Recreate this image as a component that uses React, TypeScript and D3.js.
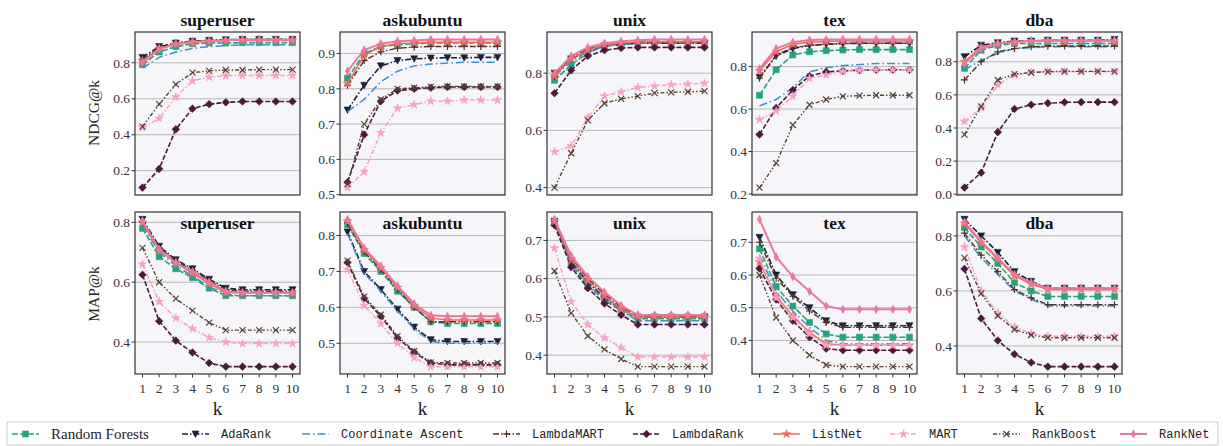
import * as d3 from 'd3'

// k = 1..10
const kValues = [1, 2, 3, 4, 5, 6, 7, 8, 9, 10]
const datasets = ['superuser', 'askubuntu', 'unix', 'tex', 'dba']
const methods = ['Random Forests', 'AdaRank', 'Coordinate Ascent', 'LambdaMART', 'LambdaRank', 'ListNet', 'MART', 'RankBoost', 'RankNet']

// rows follow the order of `methods`
const ndcgSuperuser = [
  [0.79, 0.86, 0.89, 0.905, 0.91, 0.91, 0.912, 0.912, 0.912, 0.912],
  [0.83, 0.89, 0.91, 0.92, 0.925, 0.928, 0.93, 0.93, 0.93, 0.93],
  [0.77, 0.83, 0.86, 0.88, 0.89, 0.895, 0.9, 0.9, 0.9, 0.9],
  [0.82, 0.88, 0.91, 0.92, 0.925, 0.927, 0.928, 0.928, 0.928, 0.928],
  [0.106, 0.21, 0.43, 0.545, 0.57, 0.58, 0.585, 0.585, 0.585, 0.585],
  [0.81, 0.88, 0.905, 0.915, 0.92, 0.925, 0.925, 0.925, 0.925, 0.925],
  [0.44, 0.49, 0.61, 0.7, 0.72, 0.728, 0.73, 0.73, 0.73, 0.73],
  [0.445, 0.57, 0.68, 0.745, 0.755, 0.76, 0.76, 0.762, 0.762, 0.762],
  [0.8, 0.875, 0.905, 0.915, 0.92, 0.925, 0.928, 0.928, 0.928, 0.928],
]
const ndcgAskubuntu = [
  [0.83, 0.9, 0.92, 0.925, 0.928, 0.93, 0.93, 0.93, 0.93, 0.93],
  [0.74, 0.81, 0.865, 0.88, 0.885, 0.887, 0.888, 0.888, 0.889, 0.889],
  [0.735, 0.77, 0.82, 0.85, 0.865, 0.87, 0.873, 0.875, 0.875, 0.875],
  [0.81, 0.88, 0.905, 0.915, 0.918, 0.92, 0.92, 0.92, 0.92, 0.92],
  [0.535, 0.67, 0.765, 0.795, 0.8, 0.803, 0.805, 0.805, 0.805, 0.805],
  [0.815, 0.895, 0.92, 0.928, 0.93, 0.932, 0.932, 0.932, 0.932, 0.932],
  [0.52, 0.565, 0.675, 0.745, 0.755, 0.765, 0.765, 0.768, 0.768, 0.768],
  [0.53, 0.7, 0.77, 0.8, 0.803, 0.806, 0.807, 0.807, 0.807, 0.807],
  [0.85, 0.91, 0.928, 0.935, 0.937, 0.94, 0.94, 0.94, 0.94, 0.94],
]
const ndcgUnix = [
  [0.775, 0.83, 0.87, 0.895, 0.9, 0.905, 0.905, 0.905, 0.905, 0.905],
  [0.8, 0.85, 0.875, 0.895, 0.9, 0.905, 0.905, 0.905, 0.905, 0.905],
  [0.79, 0.84, 0.875, 0.895, 0.9, 0.905, 0.905, 0.905, 0.905, 0.905],
  [0.79, 0.855, 0.885, 0.9, 0.905, 0.908, 0.91, 0.91, 0.91, 0.91],
  [0.73, 0.81, 0.86, 0.88, 0.888, 0.89, 0.89, 0.89, 0.89, 0.89],
  [0.79, 0.85, 0.88, 0.9, 0.905, 0.91, 0.91, 0.91, 0.91, 0.91],
  [0.525, 0.545, 0.645, 0.72, 0.735, 0.75, 0.755, 0.76, 0.762, 0.765],
  [0.4, 0.52, 0.635, 0.695, 0.71, 0.72, 0.73, 0.733, 0.735, 0.737],
  [0.8, 0.86, 0.89, 0.905, 0.912, 0.915, 0.918, 0.918, 0.918, 0.918],
]
const ndcgTex = [
  [0.665, 0.785, 0.855, 0.87, 0.875, 0.878, 0.88, 0.88, 0.88, 0.88],
  [0.75, 0.85, 0.885, 0.9, 0.905, 0.907, 0.91, 0.91, 0.91, 0.91],
  [0.615, 0.645, 0.7, 0.775, 0.795, 0.805, 0.81, 0.815, 0.815, 0.815],
  [0.745, 0.855, 0.89, 0.9, 0.905, 0.91, 0.91, 0.91, 0.91, 0.91],
  [0.48, 0.605, 0.69, 0.755, 0.775, 0.78, 0.783, 0.785, 0.785, 0.785],
  [0.78, 0.87, 0.905, 0.915, 0.918, 0.92, 0.92, 0.92, 0.92, 0.92],
  [0.55, 0.59, 0.66, 0.745, 0.76, 0.778, 0.783, 0.785, 0.785, 0.785],
  [0.23, 0.345, 0.525, 0.62, 0.645, 0.66, 0.663, 0.665, 0.665, 0.665],
  [0.79, 0.885, 0.915, 0.925, 0.927, 0.928, 0.928, 0.928, 0.928, 0.928],
]
const ndcgDba = [
  [0.76, 0.87, 0.9, 0.91, 0.91, 0.91, 0.91, 0.91, 0.91, 0.91],
  [0.83, 0.9, 0.915, 0.925, 0.925, 0.93, 0.93, 0.93, 0.93, 0.935],
  [0.75, 0.81, 0.85, 0.88, 0.885, 0.89, 0.89, 0.89, 0.89, 0.89],
  [0.69, 0.8, 0.86, 0.88, 0.89, 0.895, 0.895, 0.895, 0.895, 0.895],
  [0.04, 0.13, 0.375, 0.515, 0.54, 0.55, 0.555, 0.556, 0.556, 0.556],
  [0.8, 0.89, 0.91, 0.92, 0.925, 0.925, 0.925, 0.925, 0.925, 0.925],
  [0.44, 0.52, 0.66, 0.72, 0.735, 0.74, 0.74, 0.74, 0.74, 0.74],
  [0.36, 0.53, 0.69, 0.725, 0.735, 0.74, 0.742, 0.742, 0.742, 0.742],
  [0.79, 0.88, 0.91, 0.92, 0.925, 0.928, 0.928, 0.928, 0.928, 0.928],
]

const mapSuperuser = [
  [0.78, 0.685, 0.645, 0.615, 0.58, 0.555, 0.555, 0.555, 0.555, 0.555],
  [0.81, 0.72, 0.675, 0.645, 0.61, 0.58, 0.575, 0.575, 0.575, 0.575],
  [0.79, 0.7, 0.655, 0.62, 0.585, 0.56, 0.555, 0.555, 0.555, 0.555],
  [0.8, 0.715, 0.67, 0.64, 0.605, 0.575, 0.57, 0.57, 0.57, 0.57],
  [0.625, 0.47, 0.405, 0.365, 0.33, 0.318, 0.318, 0.318, 0.318, 0.318],
  [0.8, 0.705, 0.665, 0.63, 0.595, 0.565, 0.565, 0.565, 0.565, 0.565],
  [0.66, 0.535, 0.48, 0.445, 0.415, 0.4, 0.395, 0.395, 0.395, 0.395],
  [0.715, 0.6, 0.545, 0.505, 0.465, 0.44, 0.44, 0.44, 0.44, 0.44],
  [0.805, 0.71, 0.665, 0.635, 0.6, 0.57, 0.565, 0.565, 0.565, 0.565],
]
const mapAskubuntu = [
  [0.83, 0.75, 0.7, 0.645, 0.6, 0.56, 0.555, 0.555, 0.555, 0.555],
  [0.81, 0.7, 0.65, 0.595, 0.545, 0.51, 0.505, 0.505, 0.505, 0.505],
  [0.805, 0.695, 0.645, 0.59, 0.54, 0.505, 0.5, 0.5, 0.5, 0.5],
  [0.835, 0.755, 0.705, 0.65, 0.6, 0.56, 0.56, 0.56, 0.56, 0.56],
  [0.725, 0.625, 0.575, 0.515, 0.475, 0.445, 0.44, 0.44, 0.44, 0.44],
  [0.84, 0.76, 0.71, 0.655, 0.605, 0.57, 0.565, 0.565, 0.565, 0.565],
  [0.705, 0.605, 0.555, 0.5, 0.46, 0.435, 0.435, 0.435, 0.435, 0.435],
  [0.73, 0.63, 0.58, 0.52, 0.478, 0.447, 0.445, 0.445, 0.445, 0.445],
  [0.845, 0.765, 0.715, 0.66, 0.61, 0.578, 0.575, 0.575, 0.575, 0.575],
]
const mapUnix = [
  [0.745, 0.64, 0.58, 0.545, 0.515, 0.495, 0.495, 0.495, 0.495, 0.495],
  [0.75, 0.645, 0.59, 0.55, 0.52, 0.5, 0.5, 0.5, 0.5, 0.5],
  [0.745, 0.64, 0.585, 0.545, 0.515, 0.49, 0.49, 0.49, 0.49, 0.49],
  [0.75, 0.655, 0.6, 0.56, 0.525, 0.505, 0.505, 0.505, 0.505, 0.505],
  [0.74, 0.63, 0.575, 0.535, 0.505, 0.48, 0.48, 0.48, 0.48, 0.48],
  [0.75, 0.65, 0.595, 0.555, 0.52, 0.5, 0.5, 0.5, 0.5, 0.5],
  [0.68, 0.54, 0.48, 0.445, 0.42, 0.395, 0.395, 0.395, 0.395, 0.395],
  [0.62, 0.51, 0.45, 0.415, 0.39, 0.37, 0.37, 0.37, 0.37, 0.37],
  [0.755, 0.66, 0.605, 0.565, 0.53, 0.505, 0.505, 0.505, 0.505, 0.505],
]
const mapTex = [
  [0.68, 0.565, 0.505, 0.455, 0.42, 0.41, 0.41, 0.41, 0.41, 0.41],
  [0.715, 0.6, 0.54, 0.5, 0.46, 0.445, 0.445, 0.445, 0.445, 0.445],
  [0.66, 0.55, 0.49, 0.44, 0.4, 0.39, 0.39, 0.39, 0.39, 0.39],
  [0.7, 0.59, 0.535, 0.49, 0.455, 0.44, 0.44, 0.44, 0.44, 0.44],
  [0.62, 0.525, 0.46, 0.41, 0.375, 0.37, 0.37, 0.37, 0.37, 0.37],
  [0.64, 0.535, 0.475, 0.425, 0.39, 0.385, 0.385, 0.385, 0.385, 0.385],
  [0.65, 0.53, 0.47, 0.42, 0.385, 0.385, 0.385, 0.385, 0.385, 0.385],
  [0.6, 0.47, 0.4, 0.355, 0.325, 0.32, 0.32, 0.32, 0.32, 0.32],
  [0.77, 0.655, 0.595, 0.55, 0.505, 0.495, 0.495, 0.495, 0.495, 0.495],
]
const mapDba = [
  [0.83, 0.76, 0.7, 0.63, 0.6, 0.58, 0.58, 0.58, 0.58, 0.58],
  [0.86, 0.8, 0.74, 0.67, 0.635, 0.61, 0.61, 0.61, 0.61, 0.61],
  [0.8, 0.72, 0.66, 0.6, 0.57, 0.545, 0.545, 0.545, 0.545, 0.545],
  [0.81, 0.73, 0.67, 0.605, 0.575, 0.55, 0.55, 0.55, 0.55, 0.55],
  [0.68, 0.5, 0.42, 0.37, 0.34, 0.325, 0.325, 0.325, 0.325, 0.325],
  [0.845, 0.775, 0.715, 0.655, 0.625, 0.605, 0.605, 0.605, 0.605, 0.605],
  [0.76, 0.6, 0.52, 0.47, 0.445, 0.435, 0.435, 0.435, 0.435, 0.435],
  [0.72, 0.59, 0.51, 0.46, 0.44, 0.43, 0.43, 0.43, 0.43, 0.43],
  [0.85, 0.78, 0.72, 0.66, 0.63, 0.61, 0.61, 0.61, 0.61, 0.61],
]

const ndcgTicks = [
  [0.2, 0.4, 0.6, 0.8],
  [0.5, 0.6, 0.7, 0.8, 0.9],
  [0.4, 0.6, 0.8],
  [0.2, 0.4, 0.6, 0.8],
  [0.0, 0.2, 0.4, 0.6, 0.8],
]
const mapTicks = [
  [0.4, 0.6, 0.8],
  [0.5, 0.6, 0.7, 0.8],
  [0.4, 0.5, 0.6, 0.7],
  [0.4, 0.5, 0.6, 0.7],
  [0.4, 0.6, 0.8],
]

const ndcgPanels = [ndcgSuperuser, ndcgAskubuntu, ndcgUnix, ndcgTex, ndcgDba]
const mapPanels = [mapSuperuser, mapAskubuntu, mapUnix, mapTex, mapDba]

// styles
const colors = ['#27a27a', '#1b2039', '#3f8fc6', '#4e3526', '#4b1a3a', '#ef6a5a', '#f7a0c8', '#5a4232', '#e9779f']
const dashes = ['6,2', '6,2,1.5,2', '8,3,1.5,3', '6,2,1.5,2', '5,2', null, '5,2,1.5,2', '4,2,1.5,2,1.5,2', null]
const widths = [1.6, 1.6, 1.5, 1.4, 1.6, 1.5, 1.5, 1.4, 2]
const markers = ['square', 'tri', 'none', 'plus', 'diamond', 'star', 'star', 'x', 'thin']

const W = 1223
const H = 446
const panelW = 165
const lefts = [135, 340, 547, 752, 957]
const rows = [
  { top: 32, bottom: 195 },
  { top: 212, bottom: 374 },
]
const serif = '"Liberation Serif", "DejaVu Serif", serif'
const mono = '"Liberation Mono", "DejaVu Sans Mono", monospace'

function markerPath(kind: string) {
  const p = d3.path()
  if (kind === 'square') {
    p.rect(-3, -3, 6, 6)
  } else if (kind === 'tri') {
    p.moveTo(-3.5, -3); p.lineTo(3.5, -3); p.lineTo(0, 3.5); p.closePath()
  } else if (kind === 'plus') {
    p.moveTo(-3.5, 0); p.lineTo(3.5, 0); p.moveTo(0, -3.5); p.lineTo(0, 3.5)
  } else if (kind === 'x') {
    p.moveTo(-3, -3); p.lineTo(3, 3); p.moveTo(-3, 3); p.lineTo(3, -3)
  } else if (kind === 'diamond') {
    p.moveTo(0, -3.8); p.lineTo(3.8, 0); p.lineTo(0, 3.8); p.lineTo(-3.8, 0); p.closePath()
  } else if (kind === 'thin') {
    p.moveTo(0, -4.2); p.lineTo(2.2, 0); p.lineTo(0, 4.2); p.lineTo(-2.2, 0); p.closePath()
  } else if (kind === 'star') {
    return d3.symbol(d3.symbolStar, 22)() as string
  } else {
    return ''
  }
  return p.toString()
}

function Marker({ kind, color, x, y }: { kind: string; color: string; x: number; y: number }) {
  if (kind === 'none') return null
  const stroked = kind === 'plus' || kind === 'x'
  return (
    <path
      d={markerPath(kind)}
      transform={`translate(${x},${y})`}
      fill={stroked ? 'none' : color}
      stroke={color}
      strokeWidth={stroked ? 1.2 : 0.6}
    />
  )
}

function Panel({ data, ticks, col, row, name }: { data: number[][]; ticks: number[]; col: number; row: number; name: string }) {
  const left = lefts[col]
  const right = left + panelW
  const { top, bottom } = rows[row]
  const all = data.flat()
  const lo = d3.min(all) as number
  const hi = d3.max(all) as number
  const pad = (hi - lo) * 0.05
  const x = d3.scaleLinear().domain([0.55, 10.45]).range([left, right])
  const y = d3.scaleLinear().domain([lo - pad, hi + pad]).range([bottom, top])
  const line = d3.line<number>().x((_, i) => x(kValues[i])).y((d) => y(d))

  return (
    <g>
      <rect x={left} y={top} width={panelW} height={bottom - top} fill="#f6f6fa" />
      {ticks.map((t) => (
        <g key={t}>
          <line x1={left} x2={right} y1={y(t)} y2={y(t)} stroke="#b8b8b8" strokeWidth={1} />
          <line x1={left - 3.5} x2={left} y1={y(t)} y2={y(t)} stroke="#333" strokeWidth={1} />
          <text x={left - 5} y={y(t)} dy="0.35em" textAnchor="end" fontSize={13.5} fontFamily={serif} fill="#333">
            {t.toFixed(1)}
          </text>
        </g>
      ))}
      {data.map((vals, si) => (
        <g key={si}>
          <path
            d={line(vals) as string}
            fill="none"
            stroke={colors[si]}
            strokeWidth={widths[si]}
            strokeDasharray={dashes[si] ?? undefined}
          />
          {vals.map((v, i) => (
            <Marker key={i} kind={markers[si]} color={colors[si]} x={x(kValues[i])} y={y(v)} />
          ))}
        </g>
      ))}
      <rect x={left} y={top} width={panelW} height={bottom - top} fill="none" stroke="#333" strokeWidth={1.2} />
      {row === 1 &&
        kValues.map((k) => (
          <g key={k}>
            <line x1={x(k)} x2={x(k)} y1={bottom} y2={bottom + 3.5} stroke="#333" strokeWidth={1} />
            <text x={x(k)} y={bottom + 19} textAnchor="middle" fontSize={13.5} fontFamily={serif} fill="#333">
              {k}
            </text>
          </g>
        ))}
      {row === 1 && (
        <text x={(left + right) / 2} y={bottom + 41} textAnchor="middle" fontSize={19} fontFamily={serif} fill="#222">
          k
        </text>
      )}
      <text
        x={(left + right) / 2}
        y={row === 0 ? top - 6 : top + 17}
        textAnchor="middle"
        fontSize={17.5}
        fontWeight="bold"
        fontFamily={serif}
        fill="#111"
      >
        {name}
      </text>
    </g>
  )
}

const legendHandles = [12, 182, 302, 493, 633, 773, 890, 993, 1120]

function Legend() {
  const cy = 434
  return (
    <g>
      <rect x={7} y={422} width={1211} height={23} fill="#fff" stroke="#ccc" strokeWidth={1} />
      {methods.map((m, i) => {
        const x0 = legendHandles[i]
        return (
          <g key={m}>
            <line
              x1={x0}
              x2={x0 + 27}
              y1={cy}
              y2={cy}
              stroke={colors[i]}
              strokeWidth={widths[i]}
              strokeDasharray={dashes[i] ?? undefined}
            />
            <Marker kind={markers[i]} color={colors[i]} x={x0 + 13.5} y={cy} />
            <text
              x={x0 + 39}
              y={cy}
              dy="0.35em"
              fontSize={i === 0 ? 15 : 12}
              fontFamily={i === 0 ? serif : mono}
              fill="#222"
            >
              {m}
            </text>
          </g>
        )
      })}
    </g>
  )
}

export default function App() {
  return (
    <svg width={W} height={H} style={{ position: 'absolute', left: 0, top: 0, background: '#fff' }}>
      {datasets.map((d, i) => (
        <Panel key={'n' + d} data={ndcgPanels[i]} ticks={ndcgTicks[i]} col={i} row={0} name={d} />
      ))}
      {datasets.map((d, i) => (
        <Panel key={'m' + d} data={mapPanels[i]} ticks={mapTicks[i]} col={i} row={1} name={d} />
      ))}
      <text transform="translate(99,113) rotate(-90)" textAnchor="middle" fontSize={15.5} fontFamily={serif} fill="#222">
        NDCG@k
      </text>
      <text transform="translate(99,294) rotate(-90)" textAnchor="middle" fontSize={15.5} fontFamily={serif} fill="#222">
        MAP@k
      </text>
      <Legend />
    </svg>
  )
}
